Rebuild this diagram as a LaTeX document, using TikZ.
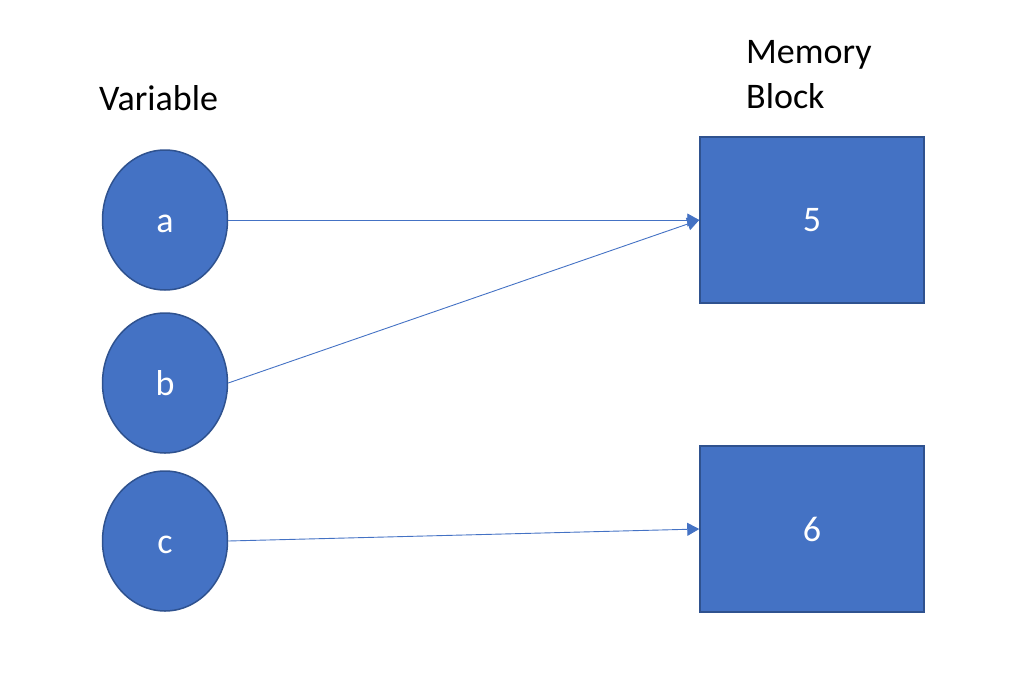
\documentclass[tikz,border=0pt]{standalone}
\usepackage{fontspec}
\setmainfont{Carlito}
\usetikzlibrary{shapes.geometric,arrows.meta}
\definecolor{fillblue}{HTML}{4472C4}
\definecolor{edgeblue}{HTML}{2F528F}
\tikzset{
  var/.style={ellipse,draw=edgeblue,line width=1.5pt,fill=fillblue,minimum width=125pt,minimum height=140pt,inner sep=0pt,text height=25pt,text depth=0pt,text=white,font=\fontsize{36}{43}\selectfont},
  mem/.style={rectangle,draw=edgeblue,line width=1.5pt,fill=fillblue,minimum width=224pt,minimum height=166pt,inner sep=0pt,text=white,font=\fontsize{36}{43}\selectfont},
  lbl/.style={text=black,font=\fontsize{36}{45}\selectfont,inner sep=0pt},
  link/.style={draw=fillblue,line width=0.9pt,-{Triangle[length=12pt,width=13pt]}}
}
\begin{document}
\begin{tikzpicture}[x=1pt,y=-1pt]
\useasboundingbox (0,0) rectangle (1013,689);
\node[var] (a) at (165,220) {a};
\node[var] (b) at (165,383) {b};
\node[var] (c) at (165,541) {c};
\node[mem] (m5) at (812,220) {5};
\node[mem] (m6) at (812,529) {6};
\node[lbl,anchor=west] (vlab) at (99,98) {Variable};
\node[lbl,anchor=west,align=left] (mlab) at (746,75) {Memory\\Block};
\draw[link] (a.east) -- (m5.west);
\draw[link] (b.east) -- (m5.west);
\draw[link] (c.east) -- (m6.west);
\end{tikzpicture}
\end{document}
